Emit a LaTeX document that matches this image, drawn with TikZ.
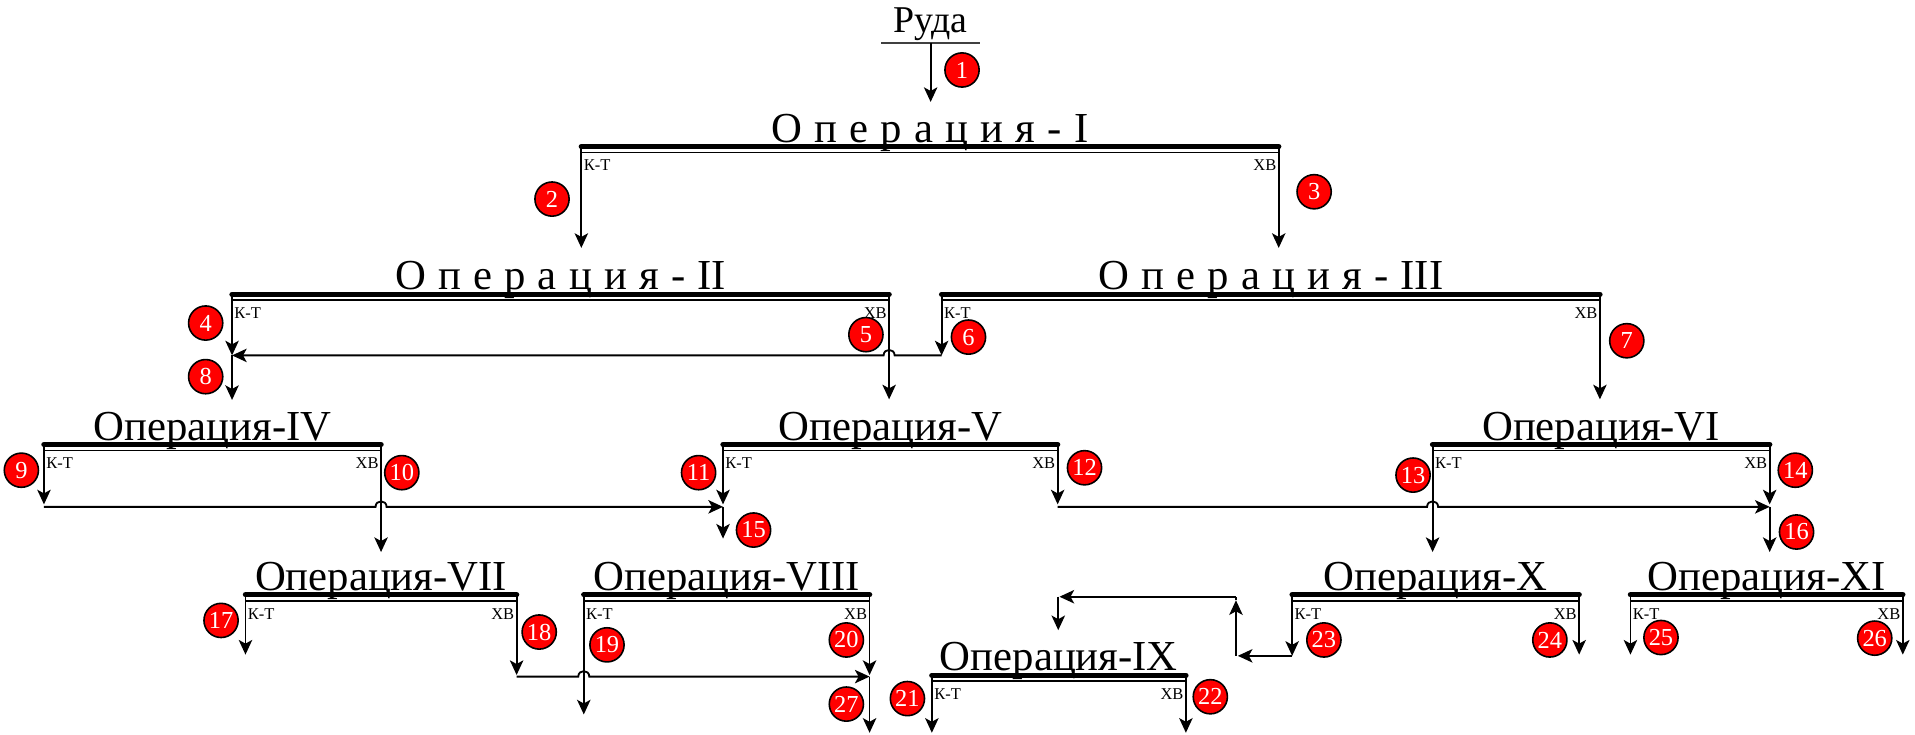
\documentclass[tikz,border=0pt]{standalone}
\usepackage{fontspec}
\setmainfont{Liberation Serif}
\usetikzlibrary{arrows.meta}
\newcommand\lsp{\hspace{10pt}}
\tikzset{
  conn/.style={line width=1.5pt},
  arr/.style={conn,-{Stealth[length=12pt,width=11pt,inset=3pt]}},
  num/.style={circle, fill=red, draw=black, line width=1.3pt, minimum size=28pt, inner sep=0pt, text=white, font=\fontsize{20}{20}\selectfont},
  optext/.style={font=\fontsize{35}{40}\selectfont, inner sep=0pt},
  lbl/.style={font=\fontsize{13.5}{13.5}\selectfont, inner sep=0pt},
  thickbar/.style={line width=4.4pt, line cap=round},
  thinbar/.style={line width=1.5pt},
}
% name, x1, x2, y, text
\newcommand\opbar[5]{%
  \draw[thickbar] (#2,#4) -- (#3,#4);
  \draw[thinbar] (#2,#4+4.8) -- (#3,#4+4.8);
  \node[optext, anchor=base] (#1) at ({(#2+#3)/2},#4-3.6) {#5};
  \node[lbl, anchor=base west] (#1kt) at (#2+1.8,#4+20) {К-Т};
  \node[lbl, anchor=base east] (#1xv) at (#3-1.8,#4+20) {ХВ};
  \coordinate (#1-l) at (#2,#4);
  \coordinate (#1-r) at (#3,#4);
}
\begin{document}
\begin{tikzpicture}[x=1pt,y=-1pt]
\fill[white] (0,0) rectangle (1568,601.8);
\useasboundingbox (0,0) rectangle (1568,601.8);

% ore
\node[font=\fontsize{31}{31}\selectfont, inner sep=0pt, anchor=base] (ore) at (762,27) {Руда};
\coordinate (oreL) at (721.5,35.2);
\coordinate (oreR) at (802.5,35.2);
\coordinate (oreM) at (762,35.2);
\coordinate (oreT) at (762,83.5);
\draw[line width=1.5pt, black!75] (oreL) -- (oreR);
\draw[arr] (oreM) -- (oreT);

% operations
\opbar{I}{476}{1047}{120}{О\lsp п\lsp е\lsp р\lsp а\lsp ц\lsp и\lsp я\lsp -\lsp I}
\opbar{II}{190}{728}{241}{О\lsp п\lsp е\lsp р\lsp а\lsp ц\lsp и\lsp я\lsp -\lsp II}
\opbar{III}{771}{1310}{241}{О\lsp п\lsp е\lsp р\lsp а\lsp ц\lsp и\lsp я\lsp -\lsp III}
\opbar{IV}{36}{312}{364}{Операция-IV}
\opbar{V}{592}{866}{364}{Операция-V}
\opbar{VI}{1173}{1449}{364}{Операция-VI}
\opbar{VII}{201}{423}{487}{Операция-VII}
\opbar{VIII}{478}{712}{487}{Операция-VIII}
\opbar{IX}{763}{971}{553}{Операция-IX}
\opbar{X}{1058}{1293}{487}{Операция-X}
\opbar{XI}{1335}{1558}{487}{Операция-XI}

% connector points
\coordinate (a2) at (476,203);
\coordinate (a3) at (1047,203);
\coordinate (j4) at (190,291);
\coordinate (a8) at (190,327.5);
\coordinate (a5) at (728,327);
\coordinate (j6) at (771,291);
\coordinate (a7) at (1310,327);
\coordinate (j9) at (36,413);
\coordinate (h9) at (36,415);
\coordinate (h15) at (592,415);
\coordinate (j11) at (592,413);
\coordinate (a15) at (592,441);
\coordinate (a10) at (312,452);
\coordinate (j12) at (866,413);
\coordinate (h12) at (866,415);
\coordinate (h16) at (1449,415);
\coordinate (j14) at (1449,413);
\coordinate (a16) at (1449,452);
\coordinate (a13) at (1173,452);
\coordinate (a17) at (201,536);
\coordinate (j18) at (423,552.7);
\coordinate (h18) at (423,554);
\coordinate (h27) at (712,554);
\coordinate (j20) at (712,552.7);
\coordinate (a27) at (712,600);
\coordinate (a19) at (478,585);
\coordinate (a21) at (763,600);
\coordinate (a22) at (971,600);
\coordinate (xa) at (1058,537);
\coordinate (xb) at (1013.5,537);
\coordinate (xc) at (1012,537);
\coordinate (xd) at (1012,491.5);
\coordinate (xe) at (1012,488.6);
\coordinate (xf) at (867.5,488.6);
\coordinate (xg) at (866.5,488.6);
\coordinate (xh) at (866.5,516);
\coordinate (a24) at (1293,536);
\coordinate (a25) at (1335,536);
\coordinate (a26) at (1558,536);

% connectors
\draw[arr] (I-l) -- (a2);
\draw[arr] (I-r) -- (a3);

\draw[arr] (II-l) -- (j4);
\draw[arr] (j4) -- (a8);
\draw[arr] (II-r) -- (a5);
\draw[arr] (III-l) -- (j6);
\draw[arr] (j6) -- (732.5,291) .. controls (732.5,285) and (723.5,285) .. (723.5,291) -- (j4);
\draw[arr] (III-r) -- (a7);

\draw[arr] (IV-l) -- (j9);
\draw[arr] (h9) -- (307.5,415) .. controls (307.5,409) and (316.5,409) .. (316.5,415) -- (h15);
\draw[arr] (IV-r) -- (a10);
\draw[arr] (V-l) -- (j11);
\draw[arr] (h15) -- (a15);
\draw[arr] (V-r) -- (j12);
\draw[arr] (h12) -- (1168.5,415) .. controls (1168.5,409) and (1177.5,409) .. (1177.5,415) -- (h16);
\draw[arr] (VI-l) -- (a13);
\draw[arr] (VI-r) -- (j14);
\draw[arr] (h16) -- (a16);

\draw[arr] (VII-l) -- (a17);
\draw[arr] (VII-r) -- (j18);
\draw[arr] (h18) -- (473.5,554) .. controls (473.5,548) and (482.5,548) .. (482.5,554) -- (h27);
\draw[arr] (VIII-l) -- (a19);
\draw[arr] (VIII-r) -- (j20);
\draw[arr] (h27) -- (a27);
\draw[arr] (IX-l) -- (a21);
\draw[arr] (IX-r) -- (a22);

\draw[arr] (X-l) -- (xa);
\draw[arr] (xa) -- (xb);
\draw[arr] (xc) -- (xd);
\draw[conn] (xd) -- (xe);
\draw[arr] (xe) -- (xf);
\draw[arr] (xg) -- (xh);
\draw[arr] (X-r) -- (a24);
\draw[arr] (XI-l) -- (a25);
\draw[arr] (XI-r) -- (a26);

% numbered markers
\node[num] (n1) at (787.7,57.3) {1};
\node[num] (n2) at (452,163) {2};
\node[num] (n3) at (1076,157) {3};
\node[num] (n4) at (168.4,264.5) {4};
\node[num] (n5) at (709,274) {5};
\node[num] (n6) at (793,276) {6};
\node[num] (n7) at (1332,279) {7};
\node[num] (n8) at (168.4,308.4) {8};
\node[num] (n9) at (17.5,385) {9};
\node[num] (n10) at (329,387) {10};
\node[num] (n11) at (572,387) {11};
\node[num] (n12) at (888,383) {12};
\node[num] (n13) at (1157,389) {13};
\node[num] (n14) at (1470,385) {14};
\node[num] (n15) at (617,434) {15};
\node[num] (n16) at (1471,435.6) {16};
\node[num] (n17) at (181,508) {17};
\node[num] (n18) at (441.5,517.5) {18};
\node[num] (n19) at (497,528) {19};
\node[num] (n20) at (693,524) {20};
\node[num] (n21) at (743,572) {21};
\node[num] (n22) at (991,570.5) {22};
\node[num] (n23) at (1084,524) {23};
\node[num] (n24) at (1269,524) {24};
\node[num] (n25) at (1360,522) {25};
\node[num] (n26) at (1535,522.5) {26};
\node[num] (n27) at (693,576.5) {27};
\end{tikzpicture}
\end{document}
